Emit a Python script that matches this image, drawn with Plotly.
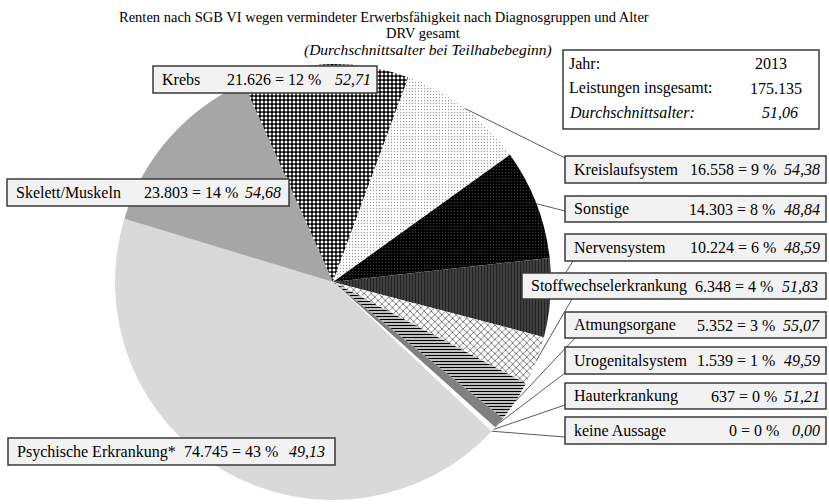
import math
import plotly.graph_objects as go

# ---------------- data ----------------
categories = ["Psychische Erkrankung*", "Skelett/Muskeln", "Krebs", "Kreislaufsystem", "Sonstige",
              "Nervensystem", "Stoffwechselerkrankung", "Atmungsorgane", "Urogenitalsystem",
              "Hauterkrankung", "keine Aussage"]
renten = [74745, 23803, 21626, 16558, 14303, 10224, 6348, 5352, 1539, 637, 0]
alter = [49.13, 54.68, 52.71, 54.38, 48.84, 48.59, 51.83, 55.07, 49.59, 51.21, 0.00]
jahr = "2013"
durchschnittsalter_gesamt = 51.06

title_lines = ["Renten nach SGB VI wegen vermindeter Erwerbsfähigkeit nach Diagnosgruppen und Alter",
               "DRV gesamt",
               "(Durchschnittsalter bei Teilhabebeginn)"]

# ---------------- styles ----------------
bg_colors = ["#d9d9d9", "#a6a6a6", "#000000", "#ffffff", "#000000", "#4a4a4a",
             "#ffffff", "#ffffff", "#808080", "#ffffff", "#ffffff"]
fg_colors = ["#d9d9d9", "#a6a6a6", "#ffffff", "#9a9a9a", "#3a3a3a", "#222222",
             "#666666", "#000000", "#808080", "#ffffff", "#ffffff"]
shapes_p = ["", "", ".", ".", ".", "|", "x", "-", "", "", ""]
sizes_p = [6, 6, 4, 3, 3, 3, 5, 3, 6, 6, 6]
solid_p = [0.3, 0.3, 0.45, 0.15, 0.2, 0.5, 0.3, 0.5, 0.3, 0.3, 0.3]

W, H = 829, 504
CX, CY, R = 333, 282, 218
ROT = 133.2
FONT = "Liberation Serif, Times New Roman, serif"
FS = 16

def px(x):
    return x / W

def py(y):
    return 1 - y / H

def fmt_int(v):
    return f"{v:,}".replace(",", ".")

def fmt_dec(v):
    return f"{v:.2f}".replace(".", ",")

total = sum(renten)

label_layout = {
    "Psychische Erkrankung*": dict(box=(8, 438, 335, 465), num_r=280, age_r=327, anchor=None),
    "Skelett/Muskeln": dict(box=(7, 179, 289, 206), num_r=240, age_r=283, anchor=None),
    "Krebs": dict(box=(153, 66, 377, 93), num_r=323, age_r=373, anchor=None),
    "Kreislaufsystem": dict(box=(565, 156, 826, 183), num_r=778, age_r=822, anchor=(565, 158)),
    "Sonstige": dict(box=(565, 196, 826, 222), num_r=777, age_r=822, anchor=(565, 211)),
    "Nervensystem": dict(box=(565, 234, 826, 261), num_r=778, age_r=822, anchor=(573, 261)),
    "Stoffwechselerkrankung": dict(box=(522, 273, 826, 299), num_r=775, age_r=820, anchor=(572, 299)),
    "Atmungsorgane": dict(box=(565, 312, 826, 338), num_r=777, age_r=822, anchor=(575, 338)),
    "Urogenitalsystem": dict(box=(565, 347, 826, 374), num_r=777, age_r=822, anchor=(565, 373)),
    "Hauterkrankung": dict(box=(565, 383, 826, 409), num_r=779, age_r=822, anchor=(565, 405)),
    "keine Aussage": dict(box=(565, 417, 826, 444), num_r=781, age_r=822, anchor=(565, 437)),
}

fig = go.Figure()
fig.add_trace(go.Pie(
    labels=categories, values=renten, sort=False, direction="clockwise", rotation=ROT,
    textinfo="none", showlegend=False,
    domain=dict(x=[px(CX - R), px(CX + R)], y=[py(CY + R), py(CY - R)]),
    marker=dict(colors=bg_colors, line=dict(width=0),
                pattern=dict(shape=shapes_p, fgcolor=fg_colors, bgcolor=bg_colors,
                             size=sizes_p, solidity=solid_p, fillmode="replace")),
))

shapes = []
annotations = []

cum = 0
for name, v, a in zip(categories, renten, alter):
    mid = math.radians(ROT + 360 * (cum + v / 2) / total)
    cum += v
    lay = label_layout[name]
    x0, y0, x1, y1 = lay["box"]
    if lay["anchor"] is not None:
        ex = CX + R * math.sin(mid)
        ey = CY - R * math.cos(mid)
        ax_, ay_ = lay["anchor"]
        shapes.append(dict(type="line", xref="paper", yref="paper",
                           x0=px(ex), y0=py(ey), x1=px(ax_), y1=py(ay_),
                           line=dict(color="#595959", width=1)))
    shapes.append(dict(type="rect", xref="paper", yref="paper",
                       x0=px(x0), y0=py(y1), x1=px(x1), y1=py(y0),
                       fillcolor="#f2f2f2", line=dict(color="#3a3a3a", width=1.5)))
    yc = py((y0 + y1) / 2)
    pct = round(v / total * 100)
    annotations.append(dict(x=px(x0 + 7), y=yc, xref="paper", yref="paper", text=name,
                            showarrow=False, xanchor="left", yanchor="middle",
                            font=dict(family=FONT, size=FS, color="black")))
    annotations.append(dict(x=px(lay["num_r"]), y=yc, xref="paper", yref="paper",
                            text=f"{fmt_int(v)} = {pct} %",
                            showarrow=False, xanchor="right", yanchor="middle",
                            font=dict(family=FONT, size=FS, color="black")))
    annotations.append(dict(x=px(lay["age_r"]), y=yc, xref="paper", yref="paper",
                            text=f"<i>{fmt_dec(a)}</i>",
                            showarrow=False, xanchor="right", yanchor="middle",
                            font=dict(family=FONT, size=FS, color="black")))

# info box
shapes.append(dict(type="rect", xref="paper", yref="paper",
                   x0=px(563), y0=py(129), x1=px(819), y1=py(50),
                   fillcolor="#ffffff", line=dict(color="#3a3a3a", width=1.5)))
info_rows = [("Jahr:", jahr, 63, 771, False),
             ("Leistungen insgesamt:", fmt_int(total), 88, 776, False),
             ("Durchschnittsalter:", fmt_dec(durchschnittsalter_gesamt), 112, 780, True)]
for left, right, yy, xc, ital in info_rows:
    lt = f"<i>{left}</i>" if ital else left
    rt = f"<i>{right}</i>" if ital else right
    annotations.append(dict(x=px(567), y=py(yy), xref="paper", yref="paper", text=lt,
                            showarrow=False, xanchor="left", yanchor="middle",
                            font=dict(family=FONT, size=FS, color="black")))
    annotations.append(dict(x=px(xc), y=py(yy), xref="paper", yref="paper", text=rt,
                            showarrow=False, xanchor="center", yanchor="middle",
                            font=dict(family=FONT, size=FS, color="black")))

# titles
title_pos = [(384, 17, 14.5, False), (423, 33, 14.5, False), (428, 50, 15.5, True)]
for t, (xx, yy, fs, ital) in zip(title_lines, title_pos):
    annotations.append(dict(x=px(xx), y=py(yy), xref="paper", yref="paper",
                            text=f"<i>{t}</i>" if ital else t,
                            showarrow=False, xanchor="center", yanchor="middle",
                            font=dict(family=FONT, size=fs, color="black")))

fig.update_layout(width=W, height=H, margin=dict(l=0, r=0, t=0, b=0),
                  paper_bgcolor="white", plot_bgcolor="white",
                  shapes=shapes, annotations=annotations)

fig.write_html("out.html", config={"displayModeBar": False},
               post_script="document.body.style.margin='0px';document.body.style.overflow='hidden';")
